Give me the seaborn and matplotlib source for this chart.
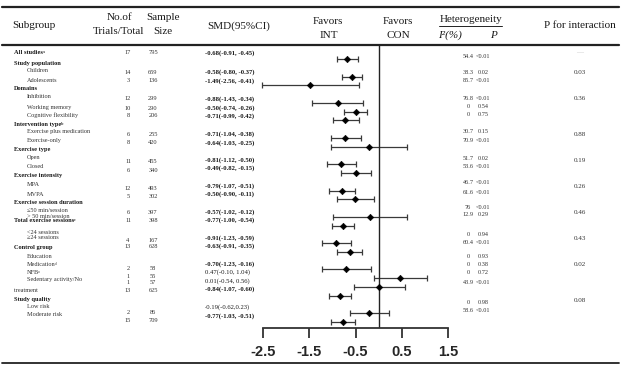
import numpy as np
import pandas as pd
import matplotlib
matplotlib.use('Agg')
import matplotlib.pyplot as plt
import seaborn as sns

W, H = 641, 369

# ---- table text ----
subgroups = ['All studiesᵃ', 'Study population', 'Children', 'Adolescents', 'Domains',
             'Inhibition', 'Working memory', 'Cognitive flexibility', 'Intervention typeᵇ',
             'Exercise plus medication', 'Exercise-only', 'Exercise type', 'Open', 'Closed',
             'Exercise intensity', 'MPA', 'MVPA', 'Exercise session duration',
             '≤50 min/session', '> 50 min/session', 'Total exercise sessionsᶜ',
             '<24 sessions', '≥24 sessions', 'Control group', 'Education', 'Medicationᵈ',
             'NFBᵉ', 'Sedentary activity/No', 'treatment', 'Study quality', 'Low risk',
             'Moderate risk']
subgroup_level = [0, 0, 1, 1, 0, 1, 1, 1, 0, 1, 1, 0, 1, 1, 0, 1, 1, 0, 1, 1, 0, 1, 1, 0,
                  1, 1, 1, 1, 2, 0, 1, 1]  # 0 = bold heading, 1 = item, 2 = plain, no indent
subgroup_y = [53, 63, 71, 80, 89, 97, 107, 115, 125, 132, 140, 150, 158, 167, 176, 185, 194,
              202, 211, 216, 221, 233, 238, 247, 257, 265, 272, 280, 290, 299, 307, 315]

trials = ['17', '14', '3', '12', '10', '8', '6', '8', '11', '6', '12', '5', '6', '11', '4',
          '13', '2', '1', '1', '13', '2', '15']
sample_size = ['795', '659', '136', '299', '290', '206', '255', '420', '455', '340', '493',
               '302', '397', '398', '167', '628', '58', '55', '57', '625', '86', '709']
count_y = [53, 72, 81, 99, 108, 116, 134, 143, 162, 170, 188, 197, 213, 221, 241, 247, 268,
           276, 283, 290, 312, 321]

smd_text = ['-0.68(-0.91, -0.45)', '-0.58(-0.80, -0.37)', '-1.49(-2.56, -0.41)',
            '-0.88(-1.43, -0.34)', '-0.50(-0.74, -0.26)', '-0.71(-0.99, -0.42)',
            '-0.71(-1.04, -0.38)', '-0.64(-1.03, -0.25)', '-0.81(-1.12, -0.50)',
            '-0.49(-0.82, -0.15)', '-0.79(-1.07, -0.51)', '-0.50(-0.90, -0.11)',
            '-0.57(-1.02, -0.12)', '-0.77(-1.00, -0.54)', '-0.91(-1.23, -0.59)',
            '-0.63(-0.91, -0.35)', '-0.70(-1.23, -0.16)', '0.47(-0.10, 1.04)',
            '0.01(-0.54, 0.56)', '-0.84(-1.07, -0.60)', '-0.19(-0.62,0.23)',
            '-0.77(-1.03, -0.51)']
smd_bold = [1, 1, 1, 1, 1, 1, 1, 1, 1, 1, 1, 1, 1, 1, 1, 1, 1, 0, 0, 1, 0, 1]
smd_y = [53, 72, 81, 99, 108, 116, 134, 143, 160, 168, 186, 194, 212, 220, 238, 246, 264,
         272, 281, 289, 307, 316]

i2_values = ['54.4', '38.3', '85.7', '76.8', '0', '0', '30.7', '70.9', '51.7', '53.6', '46.7',
             '61.6', '76', '12.9', '0', '60.4', '0', '0', '0', '43.9', '0', '58.6']
het_p = ['<0.01', '0.02', '<0.01', '<0.01', '0.54', '0.75', '0.15', '<0.01', '0.02', '<0.01',
         '<0.01', '<0.01', '<0.01', '0.29', '0.94', '<0.01', '0.93', '0.38', '0.72', '<0.01',
         '0.98', '<0.01']
het_y = [56, 73, 81, 98, 107, 115, 132, 141, 158, 167, 183, 192, 208, 214, 234, 242, 257,
         265, 273, 282, 302, 311]

p_interaction = ['—', '0.03', '0.36', '0.88', '0.19', '0.26', '0.46', '0.43', '0.02', '0.08']
p_int_y = [53, 72, 98, 134, 160, 187, 213, 239, 265, 301]

# ---- forest plot values (as drawn) ----
plot_row = [0, 2, 3, 5, 6, 7, 9, 10, 12, 13, 15, 16, 18, 19, 21, 22, 24, 25, 26, 27, 29, 30]
smd = [-0.68, -0.58, -1.49, -0.88, -0.50, -0.72, -0.72, -0.21, -0.81, -0.49, -0.79, -0.51,
       -0.19, -0.77, -0.92, -0.62, -0.70, 0.46, 0.00, -0.84, -0.20, -0.77]
ci_low = [-0.91, -0.80, -2.53, -1.43, -0.74, -0.99, -1.04, -1.04, -1.12, -0.81, -1.07, -0.90,
          -0.99, -1.00, -1.23, -0.91, -1.23, -0.11, -0.54, -1.08, -0.62, -1.03]
ci_high = [-0.45, -0.37, -0.42, -0.34, -0.26, -0.42, -0.38, 0.62, -0.50, -0.16, -0.51, -0.11,
           0.61, -0.54, -0.59, -0.35, -0.17, 1.04, 0.56, -0.60, 0.23, -0.51]
x_ticks = [-2.5, -1.5, -0.5, 0.5, 1.5]

df = pd.DataFrame({'row': plot_row, 'smd': smd, 'lo': ci_low, 'hi': ci_high})

sns.set_style('white')
plt.rcParams['font.family'] = ['Liberation Serif', 'DejaVu Serif']
SERIF = ['Liberation Serif', 'DejaVu Serif']

fig = plt.figure(figsize=(W / 100, H / 100), dpi=100)


def put(x, y, s, size, ha='left', weight='normal', style='normal', color='#1a1a1a'):
    fig.text(x / W, 1 - y / H, s, fontsize=size, ha=ha, va='center', weight=weight,
             style=style, color=color, family=SERIF)


def hline(x0, x1, y, lw):
    fig.add_artist(plt.Line2D([x0 / W, x1 / W], [1 - y / H, 1 - y / H], color='#222',
                              lw=lw, transform=fig.transFigure))


# forest axes: row 0 at 59px, row 30 at 322px, x -2.5 -> 263px, 1.5 -> 448px
row_px = (322 - 59) / 30
ax = fig.add_axes([263 / W, 1 - 328 / H, (448 - 263) / W, (328 - 45) / H])
ax.set_xlim(-2.5, 1.5)
ax.set_ylim((328 - 59) / row_px, -(59 - 45) / row_px)
ax.patch.set_alpha(0)

ax.errorbar(df['smd'], df['row'], xerr=[df['smd'] - df['lo'], df['hi'] - df['smd']],
            fmt='none', ecolor='#3a3a3a', elinewidth=0.9, capsize=2.5, capthick=0.9,
            clip_on=False)
sns.scatterplot(data=df, x='smd', y='row', marker='D', color='black', s=11,
                edgecolor='black', linewidth=0.4, ax=ax, zorder=3, clip_on=False)
ax.axvline(0, color='#222', lw=1.0)

for side in ['top', 'left', 'right']:
    ax.spines[side].set_visible(False)
ax.spines['bottom'].set_linewidth(1.3)
ax.spines['bottom'].set_color('#333')
ax.set_xticks(x_ticks)
ax.set_xticklabels([str(t) for t in x_ticks])
ax.set_yticks([])
ax.tick_params(axis='x', bottom=True, direction='out', length=7.5, width=1.3,
               color='#333', pad=5)
for lab in ax.get_xticklabels():
    lab.set_fontfamily('Liberation Sans')
    lab.set_fontweight('bold')
    lab.set_fontsize(10.5)
ax.set_xlabel('')
ax.set_ylabel('')

# rules
hline(2, 619, 7, 1.6)
hline(2, 619, 44.5, 1.6)
hline(2, 619, 362.5, 1.3)
hline(439, 502, 25.5, 0.7)

# header
put(12, 26, 'Subgroup', 8)
put(119, 17, 'No.of', 8, ha='center')
put(119, 32, 'Trials/Total', 8, ha='center')
put(163, 17, 'Sample', 8, ha='center')
put(163, 32, 'Size', 8, ha='center')
put(239, 26, 'SMD(95%CI)', 8, ha='center')
put(328, 22, 'Favors', 8, ha='center')
put(329, 36, 'INT', 8, ha='center')
put(398, 22, 'Favors', 8, ha='center')
put(398, 36, 'CON', 8, ha='center')
put(471, 19, 'Heterogeneity', 8, ha='center')
put(450, 35, 'I²(%)', 8, ha='center', style='italic')
put(493, 35, 'P', 8, ha='center', style='italic')
put(580, 26, 'P for interaction', 8, ha='center')

# body
for s, lvl, y in zip(subgroups, subgroup_level, subgroup_y):
    if lvl == 0:
        put(14, y, s, 4.6, weight='bold')
    elif lvl == 1:
        put(27, y, s, 4.5, color='#333')
    else:
        put(14, y, s, 4.5, color='#333')

for t, n, y in zip(trials, sample_size, count_y):
    put(128, y, t, 4.6, ha='center', color='#333')
    put(153, y, n, 4.6, ha='center', color='#333')

for s, b, y in zip(smd_text, smd_bold, smd_y):
    put(205, y, s, 4.8, weight='bold' if b else 'normal')

for v, p, y in zip(i2_values, het_p, het_y):
    put(468, y, v, 4.5, ha='center', color='#333')
    put(483, y, p, 4.5, ha='center', color='#333')

for p, y in zip(p_interaction, p_int_y):
    put(580, y, p, 5, ha='center', color='#bbbbbb' if p == '—' else '#333')

fig.savefig('out.png', dpi=100)
